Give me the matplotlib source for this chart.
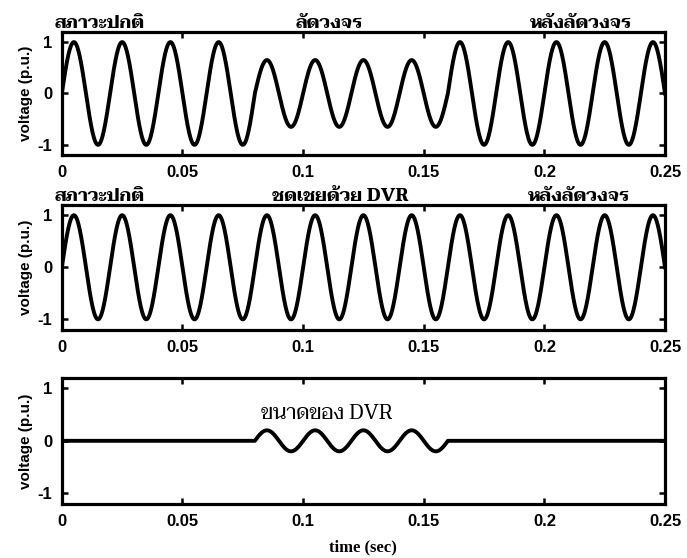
import numpy as np
import matplotlib
matplotlib.use("Agg")
import matplotlib.pyplot as plt
from matplotlib import transforms

# values
freq = 50.0                      # Hz, period 0.02 s
edges = [0.0, 0.08, 0.16, 0.25]  # normal / fault / after fault (sec)
sag_amp = [1.0, 0.65, 1.0]       # supply voltage, p.u.
comp_amp = [1.0, 1.0, 1.0]       # load voltage with DVR
dvr_amp = [0.0, 0.2, 0.0]        # voltage injected by DVR
xticks = [0, 0.05, 0.1, 0.15, 0.2, 0.25]
xticklabels = ['0', '0.05', '0.1', '0.15', '0.2', '0.25']
yticks = [-1, 0, 1]

titles_top = ['สภาวะปกติ', 'ลัดวงจร', 'หลังลัดวงจร']
titles_mid = ['สภาวะปกติ', 'ชดเชยด้วย DVR', 'หลังลัดวงจร']
dvr_label = 'ขนาดของ DVR'

thai = ['Taviraj', 'Liberation Serif', 'DejaVu Serif']
plt.rcParams['font.family'] = ['Liberation Sans', 'DejaVu Sans']
plt.rcParams['axes.unicode_minus'] = False

t = np.linspace(edges[0], edges[-1], 3001)


def wave(amps):
    a = np.zeros_like(t)
    for i in range(len(amps)):
        m = (t >= edges[i]) & (t <= edges[i + 1])
        a[m] = amps[i]
    return a * np.sin(2 * np.pi * freq * t)


fig = plt.figure(figsize=(6.87, 5.58), dpi=100)
boxes = [[0.090, 0.722, 0.878, 0.221],
         [0.090, 0.409, 0.878, 0.224],
         [0.090, 0.097, 0.878, 0.226]]
series = [sag_amp, comp_amp, dvr_amp]
axes = []
for b, amps in zip(boxes, series):
    ax = fig.add_axes(b)
    ax.plot(t, wave(amps), color='black', lw=2.8)
    ax.set_xlim(0, 0.25)
    ax.set_ylim(-1.2, 1.2)
    ax.set_xticks(xticks)
    ax.set_xticklabels(xticklabels)
    ax.set_yticks(yticks)
    ax.tick_params(direction='in', top=True, right=True, length=4, width=1.8,
                   labelsize=12, pad=7)
    for lab in ax.get_xticklabels() + ax.get_yticklabels():
        lab.set_fontweight('bold')
    for s in ax.spines.values():
        s.set_linewidth(2.3)
    ax.set_ylabel('voltage (p.u.)', fontsize=11, fontweight='bold', labelpad=3)
    axes.append(ax)

# section captions above the top two panels
title_x = [[-0.003, 0.097, 0.194], [-0.003, 0.087, 0.193]]
for ax, names, xs in zip(axes[:2], [titles_top, titles_mid], title_x):
    tr = transforms.blended_transform_factory(ax.transData, ax.transAxes)
    for x, name in zip(xs, names):
        ax.text(x, 1.0, name, transform=tr, ha='left', va='bottom',
                fontsize=13, fontweight='bold', family=thai)

axes[2].text(0.0826, 0.52, dvr_label, ha='left', va='center', fontsize=15,
             family=thai)
axes[2].set_xlabel('time (sec)', fontsize=12, fontweight='bold',
                   family=['Liberation Serif', 'DejaVu Serif'], labelpad=8)

fig.savefig("out.png", dpi=100)
